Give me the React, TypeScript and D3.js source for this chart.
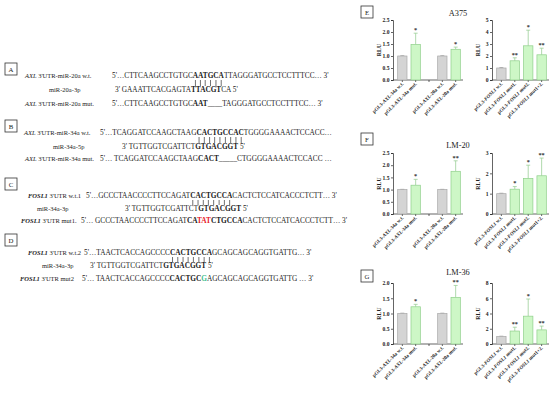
import React, { useEffect, useRef } from "react";
import * as d3 from "d3";

const W = 550;
const H = 399;
const serif = "'Liberation Serif', 'Times New Roman', serif";

// ---- luciferase panels (E, F, G) ----
const cellLines = ["A375", "LM-20", "LM-36"];
const panelTags = ["E", "F", "G"];

const axlSlots = ["34a w.t.", "34a mut.", "gap", "20a w.t.", "20a mut."];
const axlKeys = ["34a w.t.", "34a mut.", "20a w.t.", "20a mut."];
const axlLabels = [
  ["pGL3-", "AXL", "-34a w.t."],
  ["pGL3-", "AXL", "-34a mut."],
  ["pGL3-", "AXL", "-20a w.t."],
  ["pGL3-", "AXL", "-20a mut."],
];
const axlControl = [true, false, true, false];

const foslKeys = ["w.t.", "mut1.", "mut2.", "mut1+2."];
const foslLabels = [
  ["pGL3-", "FOSL1", " w.t."],
  ["pGL3-", "FOSL1", " mut1."],
  ["pGL3-", "FOSL1", " mut2."],
  ["pGL3-", "FOSL1", " mut1+2."],
];
const foslControl = [true, false, false, false];

// mean RLU, upper error (mean + SD), significance
const axlMean = [
  [1.0, 1.48, 1.0, 1.28],
  [1.0, 1.18, 1.0, 1.75],
  [1.0, 1.22, 1.0, 1.53],
];
const axlUpper = [
  [1.01, 1.95, 1.01, 1.37],
  [1.01, 1.42, 1.01, 2.18],
  [1.01, 1.3, 1.01, 1.92],
];
const axlSig = [
  ["", "*", "", "*"],
  ["", "*", "", "**"],
  ["", "*", "", "**"],
];
const axlMax = [2.5, 2.5, 2.0];

const foslMean = [
  [1.0, 1.6, 2.85, 2.1],
  [1.0, 1.22, 1.75, 1.88],
  [1.0, 1.7, 3.65, 1.85],
];
const foslUpper = [
  [1.03, 1.85, 4.15, 2.65],
  [1.02, 1.35, 2.4, 2.75],
  [1.02, 2.2, 5.9, 2.35],
];
const foslSig = [
  ["", "**", "*", "**"],
  ["", "*", "*", "**"],
  ["", "**", "*", "**"],
];
const foslMax = [5, 3, 8];
const foslStep = [1, 1, 2];

// ---- sequence panels (A-D) ----
const seqTags = ["A", "B", "C", "D"];
const seqLabels = [
  [[["AXL", "i"], [" 3'UTR-miR-20a w.t.", ""]], [["miR-20a-3p", ""]], [["AXL", "i"], [" 3'UTR-miR-20a mut.", ""]]],
  [[["AXL", "i"], [" 3'UTR-miR-34a w.t.", ""]], [["miR-34a-5p", ""]], [["AXL", "i"], [" 3'UTR-miR-34a mut.", ""]]],
  [[["FOSL1", "ib"], [" 3'UTR w.t.1", ""]], [["miR-34a-3p", ""]], [["FOSL1", "ib"], [" 3'UTR mut1.", ""]]],
  [[["FOSL1", "ib"], [" 3'UTR w.t.2", ""]], [["miR-34a-3p", ""]], [["FOSL1", "ib"], [" 3'UTR mut2", ""]]],
];
const seqTexts = [
  [
    [["5'…CTTCAAGCCTGTGC", ""], ["AATGCA", "b"], ["TTAGGGATGCCTCCTTTCC… 3'", ""]],
    [["3' GAAATTCACGAGTA", ""], ["TTACGT", "b"], ["CA  5'", ""]],
    [["5'…CTTCAAGCCTGTGC", ""], ["AAT", "b"], ["____", ""], ["TAGGGATGCCTCCTTTCC… 3'", ""]],
  ],
  [
    [["5'…TCAGGATCCAAGCTAAG", ""], ["CACTGCCAC", "b"], ["TGGGGAAAACTCCACC…", ""]],
    [["3' TGTTGGTCGATTCT", ""], ["GTGACGGT", "b"], ["  5'", ""]],
    [["5'… TCAGGATCCAAGCTAAG", ""], ["CACT", "b"], ["_____", ""], ["CTGGGGAAAACTCCACC …", ""]],
  ],
  [
    [["5'…GCCCTAACCCCTTCCAGAT", ""], ["CACTGCCA", "b"], ["CACTCTCCATCACCCTCTT… 3'", ""]],
    [["3' TGTTGGTCGATTCT", ""], ["GTGACGGT", "b"], ["  5'", ""]],
    [["5'… GCCCTAACCCCTTCCAGAT", ""], ["CA", "b"], ["TAT", "red"], ["CTGCCA", "b"], ["CACTCTCCATCACCCTCTT… 3'", ""]],
  ],
  [
    [["5'…TAACTCACCAGCCCC", ""], ["CACTGCCA", "b"], ["GCAGCAGCAGGTGATTG… 3'", ""]],
    [["3' TGTTGGTCGATTCT", ""], ["GTGACGGT", "b"], ["  5'", ""]],
    [["5'… TAACTCACCAGCCCC", ""], ["CACTGC", "b"], ["G", "green"], ["AGCAGCAGCAGGTGATTG … 3'", ""]],
  ],
];

const seqLayout = [
  { box: 63, ys: [78, 92, 106], lx: [25, 49, 25], sx: [112, 115, 112] },
  { box: 120, ys: [135, 149, 161], lx: [24, 53, 25], sx: [100, 122, 100] },
  { box: 178, ys: [198, 211, 223], lx: [28, 37, 21], sx: [86, 125, 81] },
  { box: 234, ys: [255, 268, 281], lx: [28, 42, 20], sx: [84, 90, 82] },
];

function addRuns(text: any, runs: string[][]) {
  runs.forEach(([s, st]) => {
    const t = text.append("tspan").text(s);
    if (st.includes("i")) t.attr("font-style", "italic");
    if (st.includes("b") || st === "red" || st === "green") t.attr("font-weight", "bold");
    if (st === "red") t.attr("fill", "#e8202a");
    if (st === "green") t.attr("fill", "#3fbf8f");
  });
}

function tagBox(g: any, x: number, y: number, letter: string) {
  g.append("rect").attr("x", x).attr("y", y).attr("width", 12).attr("height", 12)
    .attr("fill", "#fff").attr("stroke", "#333").attr("stroke-width", 0.8);
  g.append("text").attr("x", x + 6).attr("y", y + 8.5).attr("text-anchor", "middle")
    .attr("font-size", 6.8).attr("font-family", serif).attr("fill", "#222").text(letter);
}

function barChart(g: any, opts: any) {
  const { x0, x1, top, bottom, slots, keys, labels, control, mean, upper, sig, max, step, fmt } = opts;
  const x = d3.scaleBand().domain(slots).range([x0 + 4, x1]).paddingInner(0.3).paddingOuter(0.05);
  const y = d3.scaleLinear().domain([0, max]).range([bottom, top]);

  const yAxis = g.append("g").attr("transform", `translate(${x0},0)`)
    .call(d3.axisLeft(y).tickValues(d3.range(0, max + 1e-9, step)).tickSize(2).tickPadding(1.5).tickFormat(d3.format(fmt)));
  yAxis.selectAll("text").attr("font-size", 5.6).attr("font-weight", "bold").attr("font-family", serif).attr("fill", "#222");
  yAxis.selectAll("line,path").attr("stroke", "#222").attr("stroke-width", 0.7);

  const xAxis = g.append("g").attr("transform", `translate(0,${bottom})`)
    .call(d3.axisBottom(x).tickSize(2).tickSizeOuter(0).tickFormat(() => ""));
  xAxis.select("path").attr("d", `M${x0},0H${x1 + 2}`);
  xAxis.selectAll("line,path").attr("stroke", "#222").attr("stroke-width", 0.7);

  g.append("text").attr("transform", `translate(${x0 - 12},${(top + bottom) / 2}) rotate(-90)`)
    .attr("text-anchor", "middle").attr("font-size", 5.8).attr("font-weight", "bold")
    .attr("font-family", serif).attr("fill", "#222").text("RLU");

  keys.forEach((k: string, i: number) => {
    const bx = x(k)!;
    const bw = x.bandwidth();
    const cx = bx + bw / 2;
    const green = !control[i];
    g.append("line").attr("x1", cx).attr("x2", cx).attr("y1", y(mean[i])).attr("y2", y(upper[i]))
      .attr("stroke", green ? "#9ccf98" : "#999").attr("stroke-width", 0.8);
    g.append("line").attr("x1", cx - 2).attr("x2", cx + 2).attr("y1", y(upper[i])).attr("y2", y(upper[i]))
      .attr("stroke", green ? "#9ccf98" : "#999").attr("stroke-width", 0.8);
    g.append("rect").attr("x", bx).attr("y", y(mean[i])).attr("width", bw).attr("height", bottom - y(mean[i]))
      .attr("fill", green ? "#cdf7c6" : "#d4d4d4").attr("stroke", green ? "#8fcf8a" : "#a8a8a8").attr("stroke-width", 0.7);
    if (sig[i]) {
      g.append("text").attr("x", cx).attr("y", y(upper[i]) - 1.2).attr("text-anchor", "middle")
        .attr("font-size", 6.3).attr("font-weight", "bold").attr("font-family", serif).attr("fill", "#333")
        .text(sig[i]);
    }
    const lab = g.append("text").attr("transform", `translate(${cx + 1.5},${bottom + 4}) rotate(-45)`)
      .attr("text-anchor", "end").attr("font-size", 5).attr("font-weight", "bold")
      .attr("font-family", serif).attr("fill", "#222");
    lab.append("tspan").text(labels[i][0]);
    lab.append("tspan").attr("font-style", "italic").text(labels[i][1]);
    lab.append("tspan").text(labels[i][2]);
  });
}

export default function App() {
  const ref = useRef<SVGSVGElement>(null);

  useEffect(() => {
    if (!ref.current) return;
    const svg = d3.select(ref.current);
    svg.selectAll("*").remove();
    svg.append("rect").attr("width", W).attr("height", H).attr("fill", "#fff");

    // sequence panels
    const left = svg.append("g").attr("font-family", serif).attr("fill", "#222");
    seqTags.forEach((tag, p) => {
      const lay = seqLayout[p];
      tagBox(left, 5, lay.box, tag);
      const seqNodes: any[] = [];
      lay.ys.forEach((yy, li) => {
        const lt = left.append("text").attr("x", lay.lx[li]).attr("y", yy).attr("font-size", 6.5);
        addRuns(lt, seqLabels[p][li]);
        const st = left.append("text").attr("x", lay.sx[li]).attr("y", yy).attr("font-size", 7.3);
        addRuns(st, seqTexts[p][li]);
        seqNodes.push(st.node());
      });
      // base pairing ticks under the seed match of the w.t. sequence
      const first = seqTexts[p][0];
      const start = first[0][0].length;
      const n = first[1][0].length;
      const node = seqNodes[0] as SVGTextElement;
      for (let c = 0; c < n; c++) {
        const a = node.getStartPositionOfChar(start + c).x;
        const b = node.getEndPositionOfChar(start + c).x;
        const cx = (a + b) / 2;
        left.append("line").attr("x1", cx).attr("x2", cx)
          .attr("y1", lay.ys[0] + 2).attr("y2", lay.ys[1] - 6)
          .attr("stroke", "#333").attr("stroke-width", 0.7);
      }
    });

    // luciferase panels
    const tops = [20, 153, 283];
    const bottoms = [80, 214, 344];
    const boxY = [6, 133, 270];
    const titleY = [16, 148, 275];
    cellLines.forEach((cl, r) => {
      const g = svg.append("g");
      tagBox(g, 361, boxY[r], panelTags[r]);
      g.append("text").attr("x", 458).attr("y", titleY[r]).attr("text-anchor", "middle")
        .attr("font-size", 8.3).attr("font-family", serif).attr("fill", "#222").text(cl);
      barChart(g, {
        x0: 393, x1: 461, top: tops[r], bottom: bottoms[r], slots: axlSlots, keys: axlKeys,
        labels: axlLabels, control: axlControl, mean: axlMean[r], upper: axlUpper[r], sig: axlSig[r],
        max: axlMax[r], step: 0.5, fmt: ".1f",
      });
      barChart(g, {
        x0: 492, x1: 547, top: tops[r], bottom: bottoms[r], slots: foslKeys, keys: foslKeys,
        labels: foslLabels, control: foslControl, mean: foslMean[r], upper: foslUpper[r], sig: foslSig[r],
        max: foslMax[r], step: foslStep[r], fmt: "d",
      });
    });
  }, []);

  return (
    <svg ref={ref} width={W} height={H} style={{ position: "absolute", left: 0, top: 0 }} />
  );
}
